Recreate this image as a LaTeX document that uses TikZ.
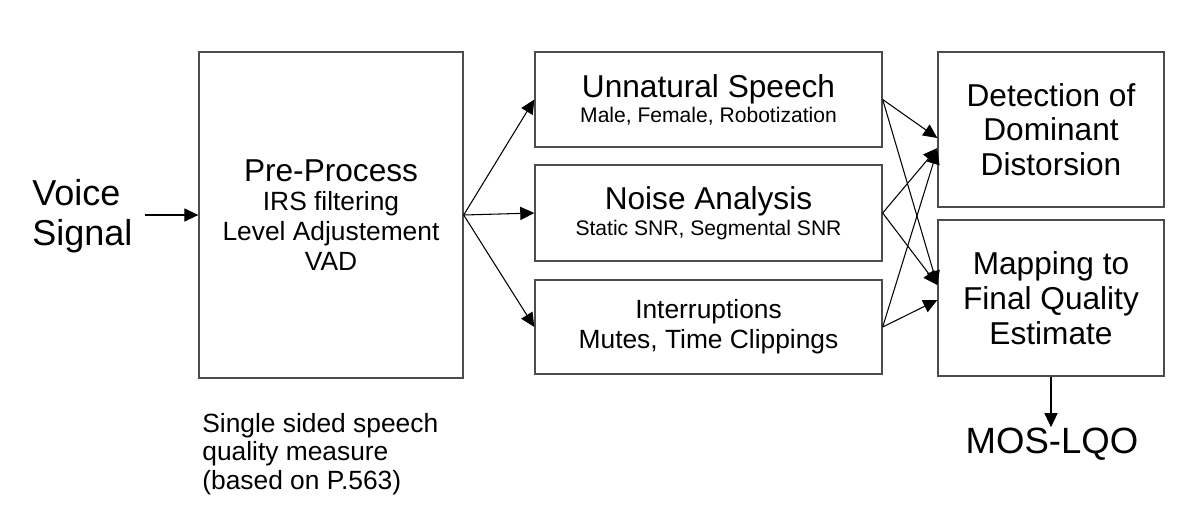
\documentclass[tikz,border=0pt]{standalone}
\usepackage{fontspec}
\setmainfont{Liberation Sans}
\usepackage{tikz}
\usetikzlibrary{arrows.meta, positioning, calc}
\tikzset{box/.style={rectangle,draw=black!70,line width=0.8pt,align=center,inner sep=2pt},
         plaintext/.style={align=left,inner sep=0pt},
         arrow/.style={-{Triangle[length=8pt,width=7.5pt]},line width=0.6pt}}

\begin{document}
\begin{tikzpicture}[x=0.02cm,y=-0.02cm]
    \useasboundingbox (0,0) rectangle (1200,525);
    % input and pre-processing
    \node (voice) [plaintext, anchor=west, font=\fontsize{20.5}{22.7}\selectfont] at (32,216) {Voice\\Signal};
    \node (pre) [box, minimum width=5.28cm, minimum height=6.52cm, font=\fontsize{15}{17}\selectfont] at (331,215)
        {{\fontsize{18}{17}\selectfont Pre-Process}\\IRS filtering\\Level Adjustement\\VAD};
    % analysis blocks
    \node (uns) [box, minimum width=6.94cm, minimum height=1.9cm, font=\fontsize{12}{14.2}\selectfont] at (708.5,99.5)
        {{\fontsize{18}{14.2}\selectfont Unnatural Speech}\\Male, Female, Robotization};
    \node (noise) [box, minimum width=6.94cm, minimum height=1.92cm, font=\fontsize{12}{14.7}\selectfont] at (708.5,213)
        {{\fontsize{18}{14.7}\selectfont Noise Analysis}\\Static SNR, Segmental SNR};
    \node (intr) [box, minimum width=6.94cm, minimum height=1.88cm, font=\fontsize{15}{17}\selectfont] at (708.5,327)
        {Interruptions\\Mutes, Time Clippings};
    % decision blocks
    \node (det) [box, minimum width=4.52cm, minimum height=3.1cm, font=\fontsize{18}{19.8}\selectfont] at (1051,129.5)
        {Detection of\\Dominant\\Distorsion};
    \node (map) [box, minimum width=4.52cm, minimum height=3.12cm, font=\fontsize{18}{19.8}\selectfont] at (1051,298)
        {Mapping to\\Final Quality\\Estimate};
    \node (mos) [plaintext, anchor=base, font=\fontsize{20.8}{23}\selectfont] at (1052,453) {MOS-LQO};
    \node (note) [plaintext, anchor=west, font=\fontsize{15}{16.4}\selectfont] at (202,454)
        {Single sided speech\\quality measure\\(based on P.563)};
    % connectors
    \draw[arrow, shorten <=0.24cm] (voice.east |- pre.west) -- (pre.west);
    \foreach \j in {uns,noise,intr} {\draw[arrow] (pre.east) -- (\j.west);}
    \foreach \i/\dy in {uns/-0.17,noise/-0.37,intr/-0.41} {\draw[arrow] (\i.east) -- ([yshift=\dy cm]det.west);}
    \foreach \i/\dy in {uns/0.26,noise/0.26,intr/-0.04} {\draw[arrow] (\i.east) -- ([yshift=\dy cm]map.west);}
    \draw[arrow] (map.south) -- (map.south |- mos.north);
\end{tikzpicture}
\end{document}
